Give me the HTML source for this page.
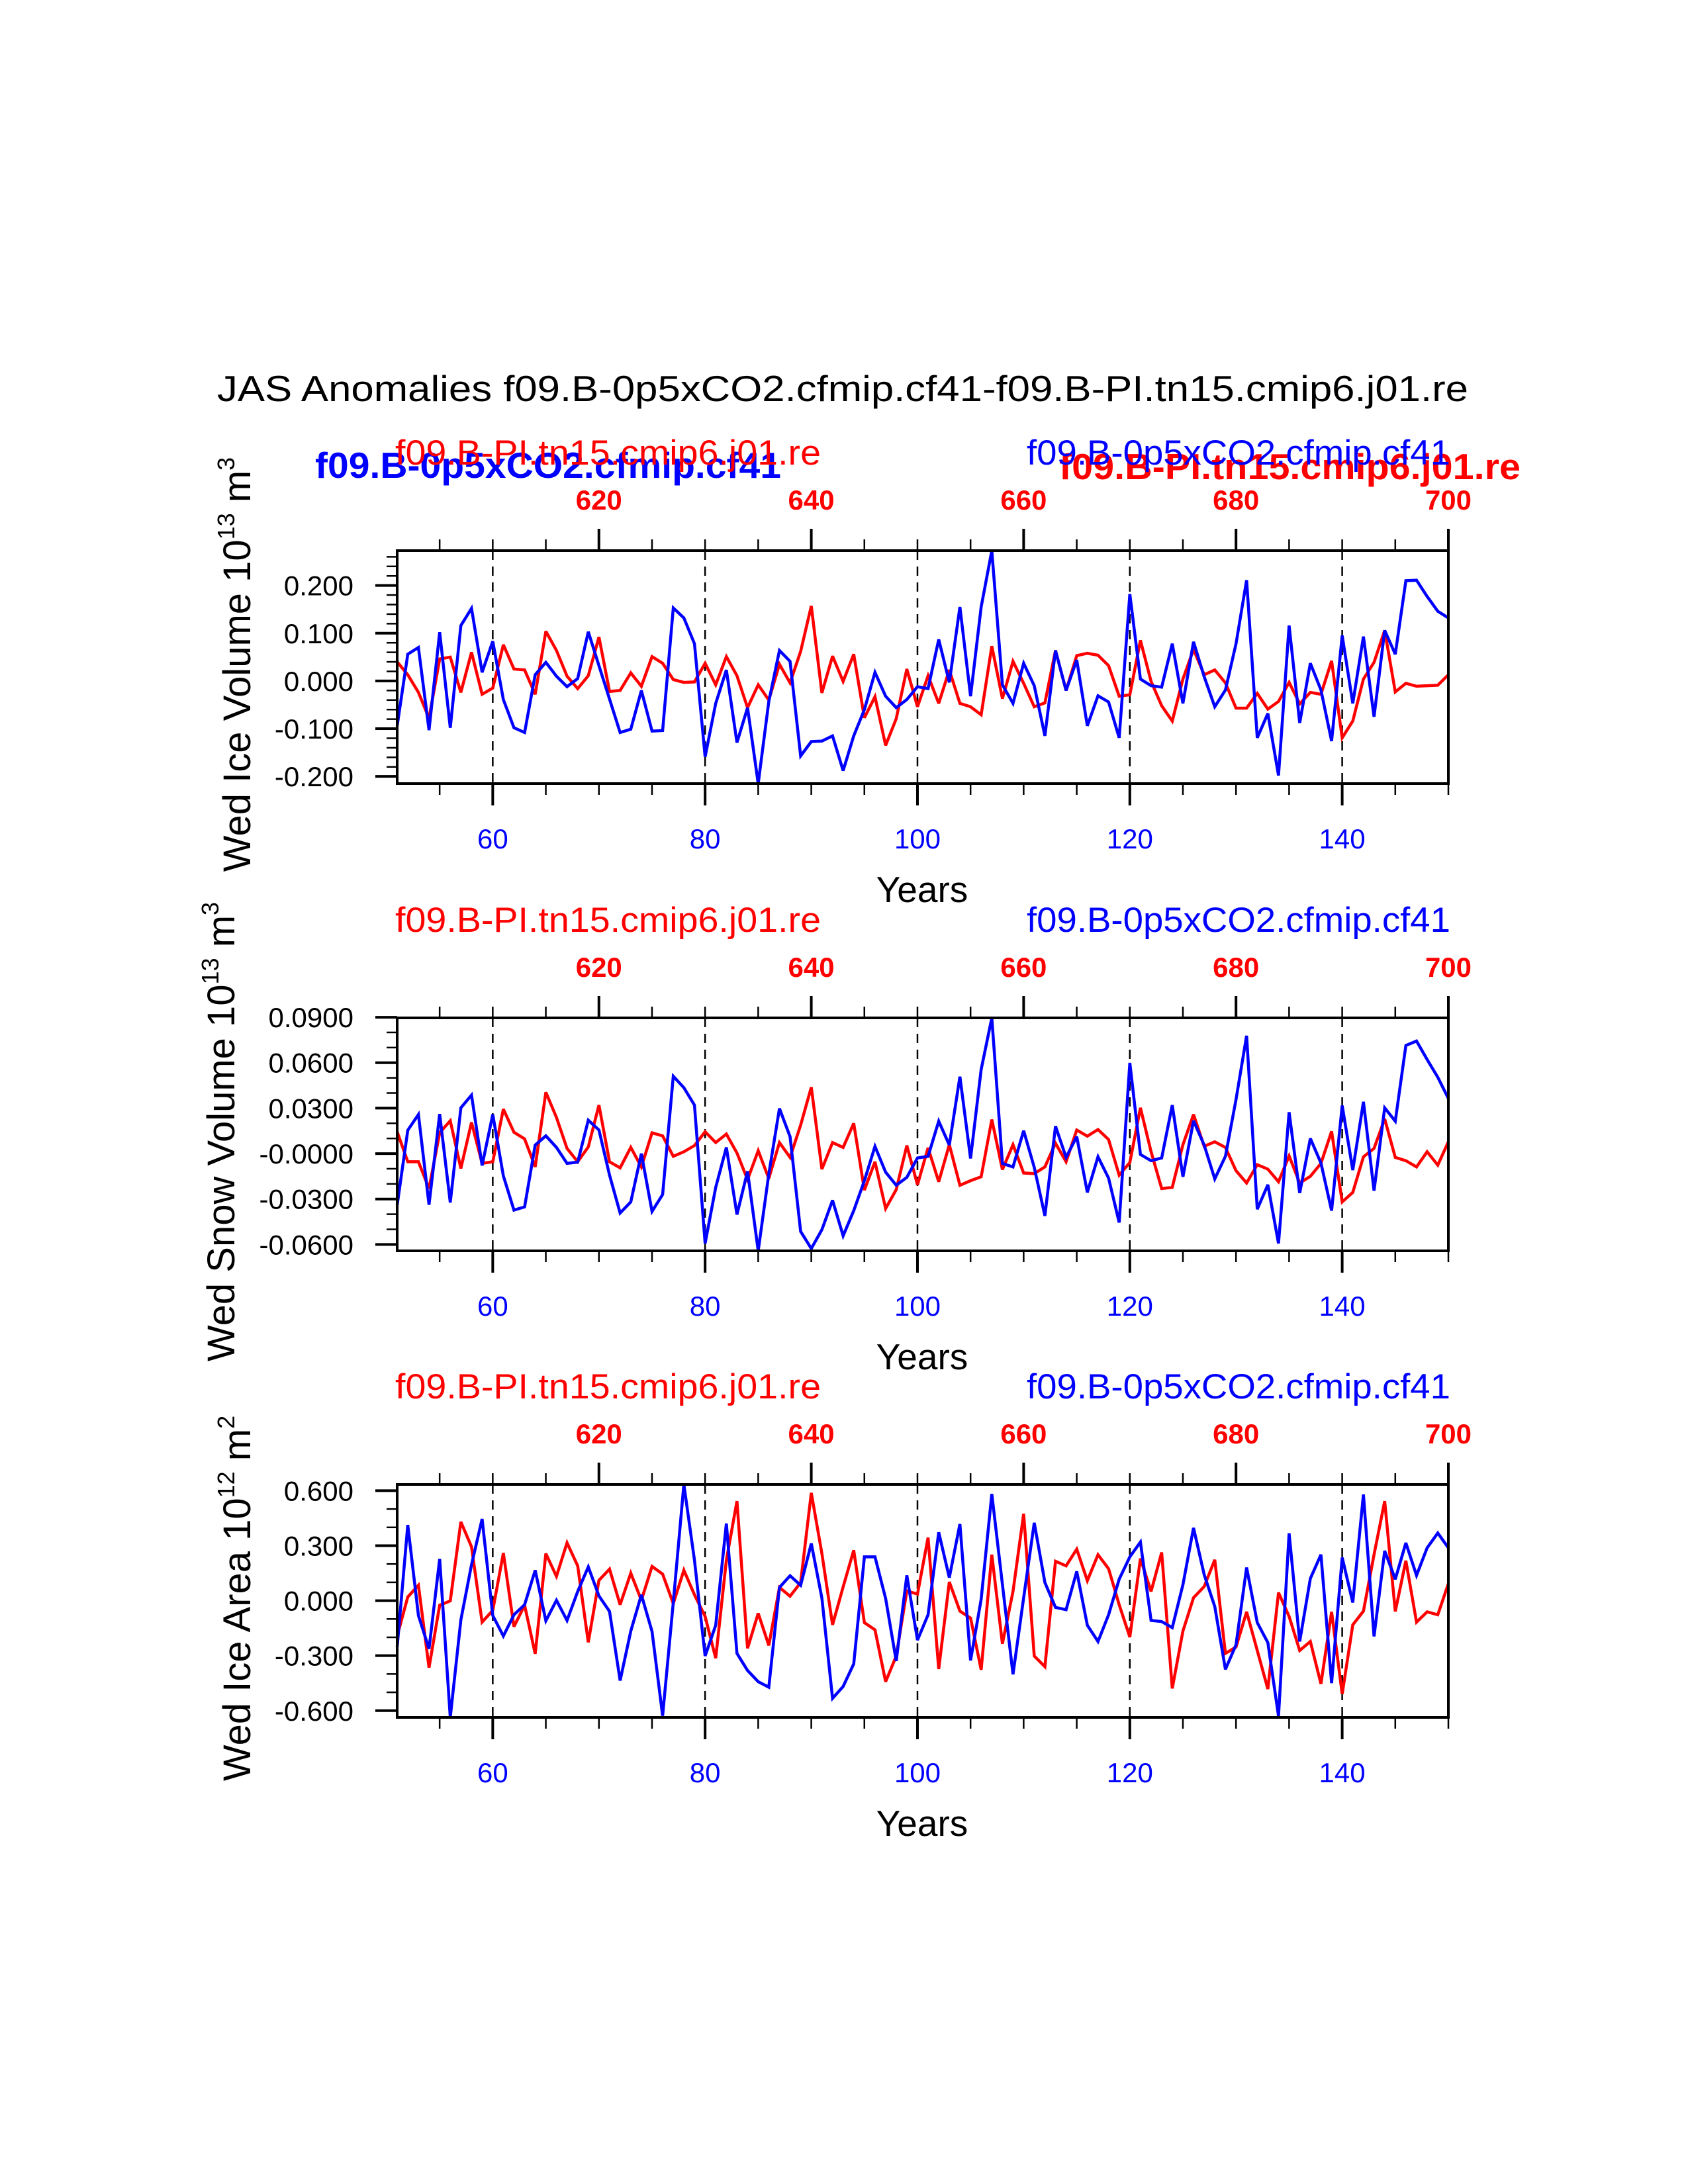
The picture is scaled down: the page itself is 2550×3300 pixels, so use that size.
<!DOCTYPE html>
<html><head><meta charset="utf-8"><style>
html,body{margin:0;padding:0;background:#fff;}
svg{display:block;font-family:"Liberation Sans",Arial,sans-serif;}
</style></head><body>
<svg id="chart" xmlns="http://www.w3.org/2000/svg" width="2550" height="3300" viewBox="0 0 2550 3300">
<rect x="0" y="0" width="2550" height="3300" fill="#fff"/>
<text x="328" y="606" font-size="55" textLength="1890" lengthAdjust="spacingAndGlyphs">JAS Anomalies f09.B-0p5xCO2.cfmip.cf41-f09.B-PI.tn15.cmip6.j01.re</text>
</svg>
<script>
// ---- data ----
const yearStart = 51;
const topYearOffset = 550;
const bottomTickLabels = [60, 80, 100, 120, 140];
const topTickLabels = [620, 640, 660, 680, 700];

const iceVolBlue = [-0.094,0.056,0.070,-0.103,0.102,-0.098,0.116,0.152,0.018,0.083,-0.039,-0.098,-0.108,0.013,0.039,0.010,-0.012,0.005,0.103,0.032,-0.038,-0.108,-0.101,-0.020,-0.105,-0.104,0.153,0.132,0.078,-0.159,-0.047,0.023,-0.129,-0.056,-0.215,-0.043,0.064,0.041,-0.157,-0.127,-0.126,-0.115,-0.188,-0.115,-0.060,0.018,-0.032,-0.056,-0.039,-0.012,
-0.016,0.087,-0.003,0.155,-0.032,0.155,0.273,-0.008,-0.047,0.037,-0.010,-0.115,0.064,-0.020,0.044,-0.094,-0.031,-0.044,-0.119,0.182,0.004,-0.010,-0.013,0.078,-0.047,0.082,0.009,-0.054,-0.019,0.078,0.211,-0.119,-0.068,-0.198,0.116,-0.088,0.037,-0.019,-0.126,0.095,-0.047,0.093,-0.075,0.106,0.056,0.210,0.211,0.177,0.146,0.132];
const iceVolRed = [0.040,0.013,-0.024,-0.078,0.046,0.050,-0.024,0.060,-0.028,-0.015,0.076,0.025,0.023,-0.028,0.104,0.064,0.010,-0.016,0.011,0.092,-0.022,-0.020,0.017,-0.011,0.051,0.037,0.003,-0.003,-0.002,0.037,-0.008,0.051,0.011,-0.056,-0.008,-0.040,0.035,-0.004,0.062,0.157,-0.025,0.052,-0.001,0.056,-0.077,-0.033,-0.135,-0.079,0.025,-0.054,
0.011,-0.047,0.023,-0.047,-0.054,-0.071,0.073,-0.037,0.041,-0.005,-0.054,-0.046,0.064,-0.020,0.053,0.058,0.054,0.032,-0.032,-0.029,0.085,-0.001,-0.052,-0.084,0.004,0.066,0.013,0.023,-0.004,-0.057,-0.057,-0.026,-0.059,-0.043,-0.003,-0.048,-0.024,-0.028,0.042,-0.119,-0.084,0.004,0.039,0.106,-0.023,-0.005,-0.011,-0.010,-0.009,0.013];

const snowVolBlue = [-0.034,0.0154,0.0258,-0.0338,0.0261,-0.0323,0.0302,0.0386,-0.0079,0.0258,-0.0147,-0.0373,-0.0352,0.0056,0.0117,0.0041,-0.0065,-0.0056,0.022,0.0156,-0.0142,-0.0392,-0.0319,0,-0.0382,-0.027,0.0511,0.0435,0.032,-0.0593,-0.0223,0.0041,-0.0402,-0.0117,-0.0642,-0.0135,0.0298,0.0112,-0.0514,-0.0627,-0.0502,-0.0308,-0.0543,-0.0377,-0.0179,0.0048,-0.0123,-0.0209,-0.0157,-0.0029,
-0.0018,0.0214,0.0056,0.0508,-0.0032,0.0555,0.0896,-0.0065,-0.0088,0.0151,-0.0091,-0.0411,0.0181,-0.0025,0.0112,-0.0256,-0.0021,-0.0162,-0.0455,0.0599,-0.0006,-0.0047,-0.0029,0.032,-0.0153,0.0217,0.0056,-0.0167,-0.0018,0.0357,0.0778,-0.0367,-0.0206,-0.0593,0.0273,-0.026,0.01,-0.0062,-0.0377,0.0317,-0.0109,0.0342,-0.0245,0.0302,0.0214,0.0714,0.0743,0.0621,0.0504,0.0364];
const snowVolRed = [0.0144,-0.0054,-0.0054,-0.0231,0.0137,0.0217,-0.0098,0.0206,-0.0065,-0.0054,0.0294,0.0141,0.0097,-0.0088,0.0405,0.0239,0.0034,-0.0054,0.0044,0.032,-0.0054,-0.0094,0.0041,-0.0088,0.0137,0.0117,-0.0018,0.0012,0.0053,0.0144,0.0073,0.0129,0.0004,-0.0172,0.0019,-0.0164,0.0073,-0.0025,0.0188,0.0438,-0.0103,0.0073,0.0041,0.02,-0.0241,-0.0054,-0.0363,-0.0238,0.0053,-0.0206,
0.0038,-0.0186,0.0059,-0.0209,-0.0179,-0.0153,0.0225,-0.0106,0.0059,-0.0128,-0.0132,-0.0088,0.0068,-0.0054,0.0156,0.0115,0.0159,0.0093,-0.0142,-0.0059,0.0302,0.0012,-0.0231,-0.0223,0.0059,0.0258,0.0048,0.0078,0.0041,-0.0113,-0.0194,-0.0073,-0.0103,-0.0186,-0.0015,-0.0194,-0.015,-0.0065,0.0147,-0.0319,-0.0256,-0.0021,0.0034,0.0229,-0.0025,-0.0047,-0.0088,0.0012,-0.0076,0.0078];

const iceAreaBlue = [-0.253,0.413,-0.081,-0.263,0.227,-0.637,-0.105,0.196,0.446,-0.081,-0.193,-0.077,-0.022,0.166,-0.110,0.002,-0.108,0.050,0.184,0.026,-0.059,-0.436,-0.166,0.032,-0.168,-0.628,-0.010,0.634,0.221,-0.302,-0.134,0.421,-0.288,-0.381,-0.442,-0.472,0.072,0.136,0.084,0.312,0.014,-0.533,-0.468,-0.345,0.239,0.239,0.012,-0.329,0.138,-0.215,
-0.077,0.373,0.126,0.418,-0.326,0.008,0.582,0.089,-0.402,0.016,0.425,0.099,-0.037,-0.049,0.160,-0.134,-0.223,-0.077,0.117,0.239,0.320,-0.108,-0.114,-0.147,0.087,0.397,0.142,-0.032,-0.375,-0.241,0.181,-0.120,-0.229,-0.630,0.367,-0.223,0.121,0.251,-0.450,0.235,-0.010,0.579,-0.195,0.272,0.117,0.315,0.138,0.288,0.369,0.288];
const iceAreaRed = [-0.193,0.020,0.084,-0.365,-0.025,-0.001,0.430,0.294,-0.117,-0.053,0.260,-0.142,-0.025,-0.290,0.257,0.133,0.316,0.190,-0.227,0.111,0.172,-0.022,0.150,0.002,0.187,0.145,-0.016,0.166,0.032,-0.086,-0.314,0.221,0.543,-0.260,-0.069,-0.244,0.072,0.024,0.099,0.588,0.257,-0.132,0.075,0.275,-0.120,-0.159,-0.442,-0.302,0.053,0.036,
0.344,-0.373,0.102,-0.057,-0.095,-0.377,0.251,-0.235,0.050,0.474,-0.302,-0.360,0.215,0.190,0.281,0.109,0.251,0.174,-0.022,-0.199,0.230,0.050,0.263,-0.479,-0.166,0.016,0.077,0.223,-0.288,-0.253,-0.061,-0.272,-0.482,0.044,-0.086,-0.272,-0.223,-0.454,-0.061,-0.509,-0.132,-0.057,0.251,0.543,-0.059,0.218,-0.117,-0.061,-0.077,0.093];

const p1Ticks = [-0.2,-0.1,0,0.1,0.2];
const p1TickLabels = ["-0.200","-0.100","0.000","0.100","0.200"];
const p2Ticks = [-0.06,-0.03,0,0.03,0.06,0.09];
const p2TickLabels = ["-0.0600","-0.0300","-0.0000","0.0300","0.0600","0.0900"];
const p3Ticks = [-0.6,-0.3,0,0.3,0.6];
const p3TickLabels = ["-0.600","-0.300","0.000","0.300","0.600"];

// ---- layout ----
const NS = "http://www.w3.org/2000/svg";
const svg = document.getElementById('chart');
const X0 = 600, X1 = 2188, XMIN = 51, XMAX = 150;
function xScale(yr){ return X0 + (yr - XMIN) * (X1 - X0) / (XMAX - XMIN); }
function mk(tag, attrs, parent){
  const e = document.createElementNS(NS, tag);
  for (const k in attrs) e.setAttribute(k, attrs[k]);
  (parent || svg).appendChild(e);
  return e;
}

const panels = [
  {top:832, bottom:1184, blue:iceVolBlue, red:iceVolRed, ticks:p1Ticks, labels:p1TickLabels, minor:0.02, title:"Wed Ice Volume 10", sup:"13", unit:" m", usup:"3", tx:378, bold:true},
  {top:1538, bottom:1890, blue:snowVolBlue, red:snowVolRed, ticks:p2Ticks, labels:p2TickLabels, minor:0.01, title:"Wed Snow Volume 10", sup:"13", unit:" m", usup:"3", tx:354, bold:false},
  {top:2243, bottom:2595, blue:iceAreaBlue, red:iceAreaRed, ticks:p3Ticks, labels:p3TickLabels, minor:0.1, title:"Wed Ice Area 10", sup:"12", unit:" m", usup:"2", tx:378, bold:false}
];

panels.forEach((p, pi) => {
  const off = p.top - 832;
  const g = mk('g', {});
  
  
  const all = p.blue.concat(p.red);
  const ymax = Math.max.apply(null, all), ymin = Math.min.apply(null, all);
  const yScale = v => p.bottom - (v - ymin) * (p.bottom - p.top) / (ymax - ymin);

  // subtitles (bold first, normal on top)
  if (p.bold) {
    const b1 = mk('text', {x:476, y:722, 'font-size':55, 'font-weight':'bold', fill:'#0000ff', textLength:704, lengthAdjust:'spacingAndGlyphs'}, g);
    b1.textContent = 'f09.B-0p5xCO2.cfmip.cf41';
    
    
    const b2 = mk('text', {x:1600, y:724, 'font-size':55, 'font-weight':'bold', fill:'#ff0000', textLength:697, lengthAdjust:'spacingAndGlyphs'}, g);
    b2.textContent = 'f09.B-PI.tn15.cmip6.j01.re';
    
    
  }
  const s1 = mk('text', {x:597, y:702+off, 'font-size':53, fill:'#ff0000', textLength:643, lengthAdjust:'spacingAndGlyphs'}, g);
  s1.textContent = 'f09.B-PI.tn15.cmip6.j01.re';
  
  
  const s2 = mk('text', {x:1551, y:702+off, 'font-size':53, fill:'#0000ff', textLength:640, lengthAdjust:'spacingAndGlyphs'}, g);
  s2.textContent = 'f09.B-0p5xCO2.cfmip.cf41';
  
  

  // dashed reference lines
  bottomTickLabels.forEach(yr => {
    const l = mk('line', {x1:xScale(yr), x2:xScale(yr), y1:p.top, y2:p.bottom, stroke:'#000', 'stroke-width':2.5, 'stroke-dasharray':'14 10'}, g);
    
    
  });

  // x ticks every 5 years
  for (let yr = 55; yr <= XMAX; yr += 5) {
    const x = xScale(yr);
    const majB = bottomTickLabels.indexOf(yr) >= 0;
    const majT = topTickLabels.indexOf(yr + topYearOffset) >= 0;
    const tb = mk('line', {x1:x, x2:x, y1:p.bottom, y2:p.bottom + (majB ? 33 : 17), stroke:'#000', 'stroke-width': majB ? 4 : 2.5}, g);
    
    
    const tt = mk('line', {x1:x, x2:x, y1:p.top, y2:p.top - (majT ? 33 : 17), stroke:'#000', 'stroke-width': majT ? 4 : 2.5}, g);
    
    
  }
  bottomTickLabels.forEach(yr => {
    const t = mk('text', {x:xScale(yr), y:1282+off, 'font-size':42, fill:'#0000ff', 'text-anchor':'middle'}, g);
    t.textContent = yr;
    
    
  });
  topTickLabels.forEach(yr => {
    const t = mk('text', {x:xScale(yr - topYearOffset), y:770+off, 'font-size':42, 'font-weight':'bold', fill:'#ff0000', 'text-anchor':'middle'}, g);
    t.textContent = yr;
    
    
  });

  // y ticks
  const nMin = Math.ceil(ymin / p.minor - 1e-6), nMax = Math.floor(ymax / p.minor + 1e-6);
  for (let n = nMin; n <= nMax; n++) {
    const v = n * p.minor;
    const y = yScale(v);
    const m = mk('line', {x1:X0 - 16, x2:X0, y1:y, y2:y, stroke:'#000', 'stroke-width':2.5}, g);
    
    
  }
  p.ticks.forEach((v, i) => {
    const y = yScale(v);
    const t = mk('line', {x1:X0 - 33, x2:X0, y1:y, y2:y, stroke:'#000', 'stroke-width':4}, g);
    
    
    const lb = mk('text', {x:534, y:y + 15, 'font-size':42, 'text-anchor':'end', fill:'#000'}, g);
    lb.textContent = p.labels[i];
    
    
  });

  // series
  const mkLine = (arr, color, name) => {
    const pts = arr.map((v, i) => xScale(yearStart + i).toFixed(1) + ',' + yScale(v).toFixed(1)).join(' ');
    const pl = mk('polyline', {points:pts, fill:'none', stroke:color, 'stroke-width':4.5, 'stroke-linejoin':'miter', 'stroke-miterlimit':3}, g);
    
    
  };
  mkLine(p.red, '#ff0000', 'series-pi-control-red');
  mkLine(p.blue, '#0000ff', 'series-0p5xco2-blue');

  // box
  const box = mk('rect', {x:X0, y:p.top, width:X1 - X0, height:p.bottom - p.top, fill:'none', stroke:'#000', 'stroke-width':4}, g);
  
  

  // x axis title
  const xt = mk('text', {x:1393, y:1363+off, 'font-size':55, 'text-anchor':'middle', fill:'#000'}, g);
  xt.textContent = 'Years';
  
  

  // y axis title
  const cy = (p.top + p.bottom) / 2 - 4;
  const yt = mk('text', {x:0, y:0, 'font-size':58, 'text-anchor':'middle', fill:'#000', transform:'translate(' + p.tx + ',' + cy + ') rotate(-90)'}, g);
  
  
  const t1 = mk('tspan', {}, yt); t1.textContent = p.title;
  const t2 = mk('tspan', {'font-size':36, dy:-24}, yt); t2.textContent = p.sup;
  const t3 = mk('tspan', {dy:24}, yt); t3.textContent = p.unit;
  const t4 = mk('tspan', {'font-size':36, dy:-24}, yt); t4.textContent = p.usup;
});
</script>
</body></html>
